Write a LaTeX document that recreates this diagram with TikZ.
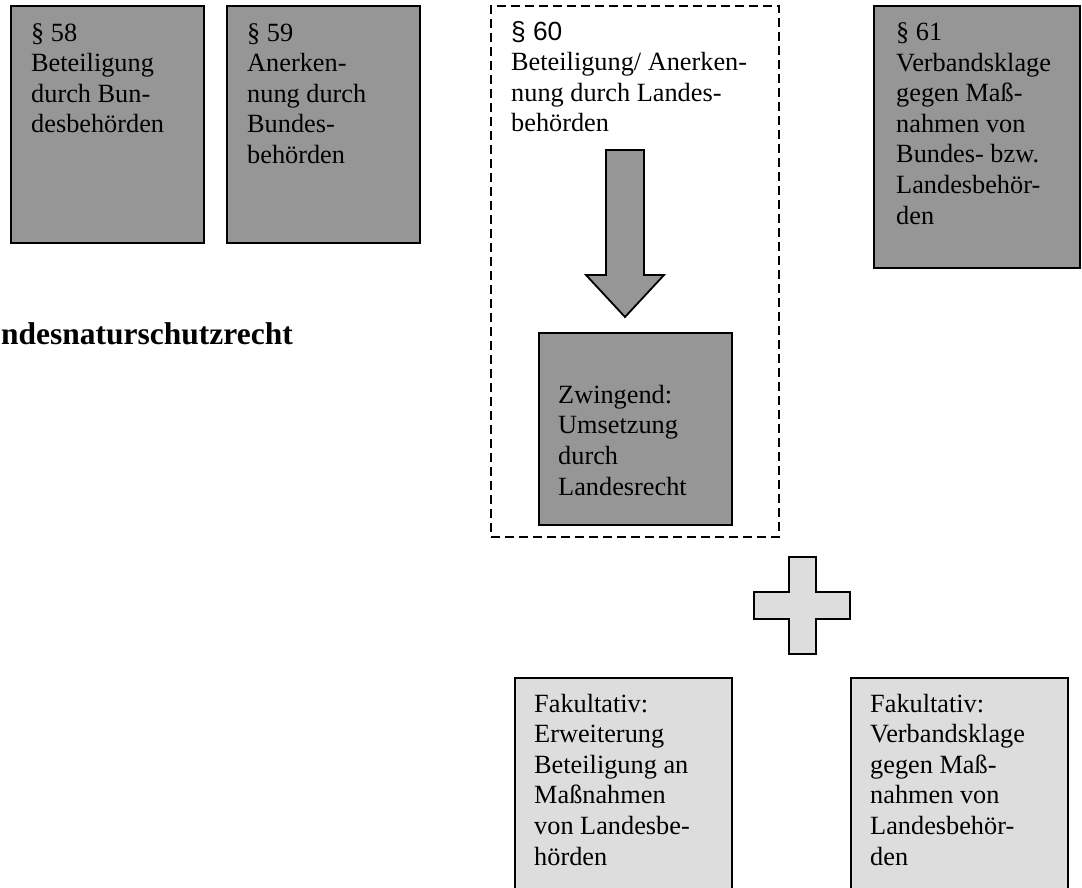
\documentclass[tikz,border=0pt]{standalone}
\usepackage{fontspec}
\setmainfont{Liberation Serif}
\newfontfamily\arialfont{Liberation Sans}
\definecolor{darkbox}{RGB}{150,150,150}
\definecolor{lightbox}{RGB}{221,221,221}
\tikzset{
  panel/.style={draw=black, line width=1.8pt, inner sep=0pt, anchor=north west},
  darkpanel/.style={panel, fill=darkbox},
  lightpanel/.style={panel, fill=lightbox},
  container/.style={draw=black, line width=1.8pt, dash pattern=on 9pt off 5pt, inner sep=0pt, anchor=north west},
  txt/.style={anchor=base west, align=left, inner sep=0pt, font=\fontsize{26.3}{30.6}\selectfont},
  bold/.style={anchor=base east, inner sep=0pt, font=\fontsize{31.5}{36}\selectfont\bfseries},
  blockshape/.style={draw=black, line width=1.8pt, line join=miter},
}
\begin{document}
\begin{tikzpicture}[x=1pt,y=-1pt]
\useasboundingbox (0,0) rectangle (1082,888);
% boxes
\node[darkpanel, minimum width=193, minimum height=237] (b58) at (10,5) {};
\node[darkpanel, minimum width=193, minimum height=237] (b59) at (226,5) {};
\node[container, minimum width=288, minimum height=531] (c60) at (490,5) {};
\node[darkpanel, minimum width=193, minimum height=192] (zw) at (538,332) {};
\node[darkpanel, minimum width=206, minimum height=262] (b61) at (873,5) {};
\node[lightpanel, minimum width=217, minimum height=230] (fk1) at (514,677) {};
\node[lightpanel, minimum width=217, minimum height=230] (fk2) at (850,677) {};
% texts (anchor = baseline of the last line)
\node[txt] (t58) at ([shift={(21,128)}]b58.north west) {§ 58\\Beteiligung\\durch Bun-\\desbehörden};
\node[txt] (t59) at ([shift={(21,158.5)}]b59.north west) {§ 59\\Anerken-\\nung durch\\Bundes-\\behörden};
\node[txt] (t60) at ([shift={(21,127)}]c60.north west) {{\arialfont § 60}\\Beteiligung/ Anerken-\\nung durch Landes-\\behörden};
\node[txt] (t61) at ([shift={(23,219)}]b61.north west) {§ 61\\Verbandsklage\\gegen Maß-\\nahmen von\\Bundes- bzw.\\Landesbehör-\\den};
\node[txt] (tzw) at ([shift={(20,163)}]zw.north west) {Zwingend:\\Umsetzung\\durch\\Landesrecht};
\node[txt] (tfk1) at ([shift={(20,188)}]fk1.north west) {Fakultativ:\\Erweiterung\\Beteiligung an\\Maßnahmen\\von Landesbe-\\hörden};
\node[txt] (tfk2) at ([shift={(20,188)}]fk2.north west) {Fakultativ:\\Verbandsklage\\gegen Maß-\\nahmen von\\Landesbehör-\\den};
\node[bold] (law) at (293,344) {ndesnaturschutzrecht};
% block arrow from the §60 text down to the Zwingend box
\draw[blockshape, fill=darkbox]
  (606,150) -- (644,150) -- (644,275) -- (664,275) -- (625,317) -- (586,275) -- (606,275) -- cycle;
% plus sign
\draw[blockshape, fill=lightbox]
  (789,557) -- (816,557) -- (816,592) -- (850,592) -- (850,619) -- (816,619) -- (816,654)
  -- (789,654) -- (789,619) -- (754,619) -- (754,592) -- (789,592) -- cycle;
\end{tikzpicture}
\end{document}
